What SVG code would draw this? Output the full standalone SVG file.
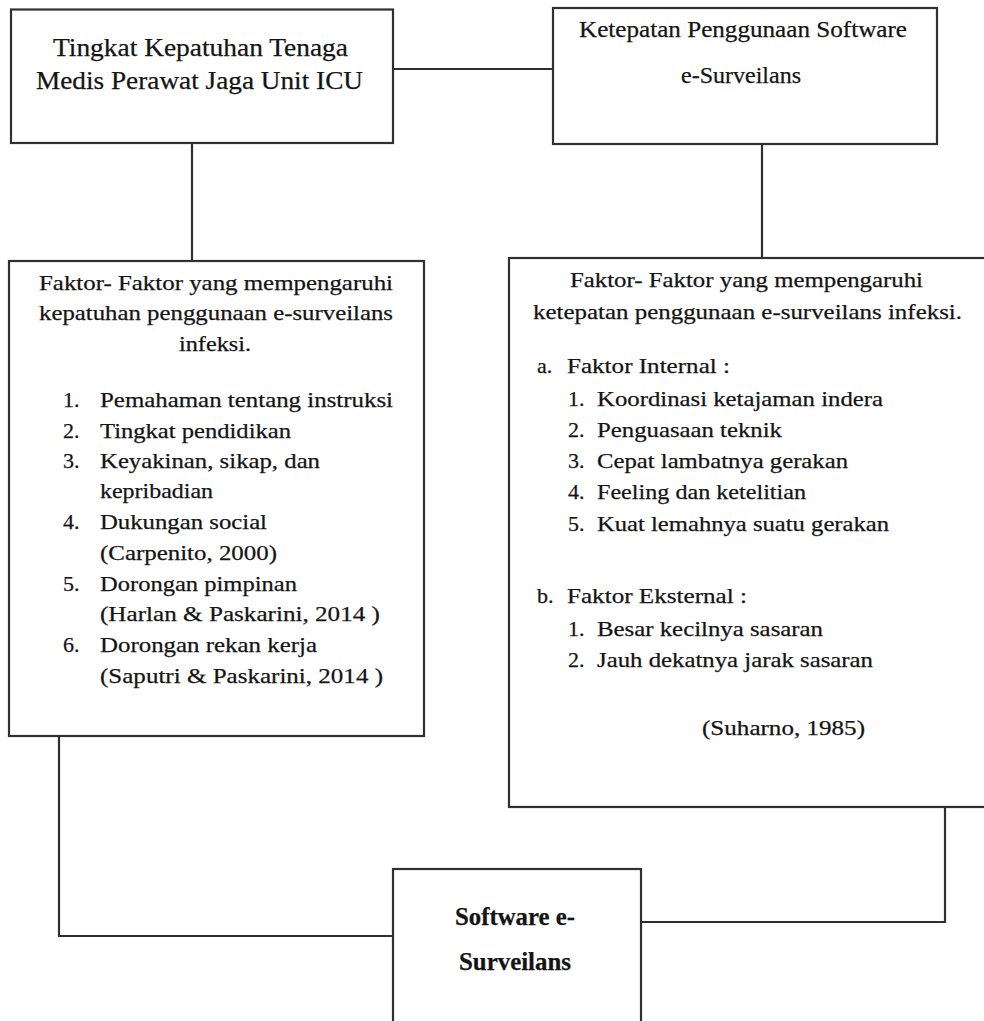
<svg xmlns="http://www.w3.org/2000/svg" width="984" height="1021" viewBox="0 0 984 1021">
<style>
.box{fill:#ffffff;stroke:#303030;stroke-width:2.2}
.con{fill:none;stroke:#303030;stroke-width:2.2}
text{font-family:"Liberation Serif","Times New Roman",serif;fill:#141414;stroke:#141414;stroke-width:0.25}
.t1{font-size:26px}
.t2{font-size:24px}
.t3{font-size:22px}
.tb{font-size:25px;font-weight:bold}
</style>
<rect width="984" height="1021" fill="#ffffff"/>
<g id="connectors">
<line class="con" x1="393" y1="69" x2="553" y2="69"/>
<line class="con" x1="192" y1="143" x2="192" y2="261"/>
<line class="con" x1="762" y1="144" x2="762" y2="258"/>
<polyline class="con" points="59,736 59,936 393,936"/>
<polyline class="con" points="945,807 945,922 641,922"/>
</g>
<g id="node-tingkat">
<rect class="box" x="11" y="9.5" width="382" height="133.5"/>
<text class="t1" x="53" y="56" textLength="295" lengthAdjust="spacingAndGlyphs">Tingkat Kepatuhan  Tenaga</text>
<text class="t1" x="36" y="89" textLength="327" lengthAdjust="spacingAndGlyphs">Medis Perawat Jaga Unit ICU</text>
</g>
<g id="node-ketepatan">
<rect class="box" x="553" y="8" width="384" height="136"/>
<text class="t2" x="579" y="37" textLength="328" lengthAdjust="spacingAndGlyphs">Ketepatan  Penggunaan Software</text>
<text class="t2" x="681" y="83" textLength="120" lengthAdjust="spacingAndGlyphs">e-Surveilans</text>
</g>
<g id="node-faktor-kepatuhan">
<rect class="box" x="9" y="261" width="415" height="475"/>
<text class="t3" x="39" y="290" textLength="354" lengthAdjust="spacingAndGlyphs">Faktor- Faktor yang mempengaruhi</text>
<text class="t3" x="39" y="320" textLength="354" lengthAdjust="spacingAndGlyphs">kepatuhan penggunaan e-surveilans</text>
<text class="t3" x="179" y="351" textLength="72" lengthAdjust="spacingAndGlyphs">infeksi.</text>
<text class="t3" x="63" y="407">1.</text>
<text class="t3" x="100" y="407" textLength="293" lengthAdjust="spacingAndGlyphs">Pemahaman  tentang  instruksi</text>
<text class="t3" x="63" y="438">2.</text>
<text class="t3" x="100" y="438" textLength="191" lengthAdjust="spacingAndGlyphs">Tingkat pendidikan</text>
<text class="t3" x="63" y="468">3.</text>
<text class="t3" x="100" y="468" textLength="220" lengthAdjust="spacingAndGlyphs">Keyakinan,  sikap, dan</text>
<text class="t3" x="100" y="498" textLength="113" lengthAdjust="spacingAndGlyphs">kepribadian</text>
<text class="t3" x="63" y="529">4.</text>
<text class="t3" x="100" y="529" textLength="167" lengthAdjust="spacingAndGlyphs">Dukungan social</text>
<text class="t3" x="100" y="560" textLength="177" lengthAdjust="spacingAndGlyphs">(Carpenito, 2000)</text>
<text class="t3" x="63" y="591">5.</text>
<text class="t3" x="100" y="591" textLength="197" lengthAdjust="spacingAndGlyphs">Dorongan pimpinan</text>
<text class="t3" x="100" y="621" textLength="280" lengthAdjust="spacingAndGlyphs">(Harlan &amp; Paskarini, 2014 )</text>
<text class="t3" x="63" y="652">6.</text>
<text class="t3" x="100" y="652" textLength="217" lengthAdjust="spacingAndGlyphs">Dorongan rekan kerja</text>
<text class="t3" x="100" y="683" textLength="283" lengthAdjust="spacingAndGlyphs">(Saputri &amp; Paskarini, 2014 )</text>
</g>
<g id="node-faktor-ketepatan">
<rect class="box" x="509" y="258" width="480" height="549"/>
<text class="t3" x="570" y="287" textLength="353" lengthAdjust="spacingAndGlyphs">Faktor- Faktor yang mempengaruhi</text>
<text class="t3" x="533" y="319" textLength="429" lengthAdjust="spacingAndGlyphs">ketepatan  penggunaan  e-surveilans  infeksi.</text>
<text class="t3" x="537" y="373">a.</text>
<text class="t3" x="567" y="373" textLength="163" lengthAdjust="spacingAndGlyphs">Faktor Internal  :</text>
<text class="t3" x="568" y="406">1.</text>
<text class="t3" x="597" y="406" textLength="286" lengthAdjust="spacingAndGlyphs">Koordinasi ketajaman  indera</text>
<text class="t3" x="568" y="437">2.</text>
<text class="t3" x="597" y="437" textLength="185" lengthAdjust="spacingAndGlyphs">Penguasaan teknik</text>
<text class="t3" x="568" y="468">3.</text>
<text class="t3" x="597" y="468" textLength="251" lengthAdjust="spacingAndGlyphs">Cepat lambatnya gerakan</text>
<text class="t3" x="568" y="499">4.</text>
<text class="t3" x="597" y="499" textLength="209" lengthAdjust="spacingAndGlyphs">Feeling dan ketelitian</text>
<text class="t3" x="568" y="531">5.</text>
<text class="t3" x="597" y="531" textLength="292" lengthAdjust="spacingAndGlyphs">Kuat lemahnya suatu gerakan</text>
<text class="t3" x="537" y="603">b.</text>
<text class="t3" x="567" y="603" textLength="180" lengthAdjust="spacingAndGlyphs">Faktor Eksternal  :</text>
<text class="t3" x="568" y="636">1.</text>
<text class="t3" x="597" y="636" textLength="226" lengthAdjust="spacingAndGlyphs">Besar kecilnya sasaran</text>
<text class="t3" x="568" y="667">2.</text>
<text class="t3" x="597" y="667" textLength="276" lengthAdjust="spacingAndGlyphs">Jauh dekatnya jarak sasaran</text>
<text class="t3" x="702" y="735" textLength="163" lengthAdjust="spacingAndGlyphs">(Suharno, 1985)</text>
</g>
<g id="node-software">
<rect class="box" x="393" y="869" width="248" height="160"/>
<text class="tb" x="455" y="925" textLength="120" lengthAdjust="spacingAndGlyphs">Software e-</text>
<text class="tb" x="459" y="970" textLength="112" lengthAdjust="spacingAndGlyphs">Surveilans</text>
</g>
</svg>
